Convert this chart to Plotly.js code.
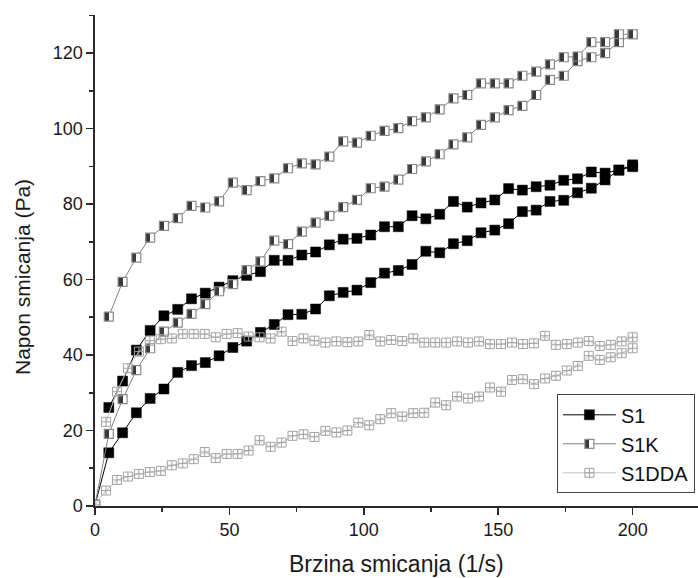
<!DOCTYPE html>
<html>
<head>
<meta charset="utf-8">
<script src="https://cdn.plot.ly/plotly-3.0.1.min.js"></script>
<style>
  html, body { margin: 0; padding: 0; background: #fff; }
  #chart { width: 698px; height: 578px; }
</style>
</head>
<body>
<div id="chart"></div>
<script>
// Shear rate grids (1/s)
const rate40 = [0, 5.13, 10.26, 15.38, 20.51, 25.64, 30.77, 35.90, 41.03, 46.15,
  51.28, 56.41, 61.54, 66.67, 71.79, 76.92, 82.05, 87.18, 92.31, 97.44,
  102.56, 107.69, 112.82, 117.95, 123.08, 128.21, 133.33, 138.46, 143.59, 148.72,
  153.85, 158.97, 164.10, 169.23, 174.36, 179.49, 184.62, 189.74, 194.87, 200];
const rate50 = [0, 4.08, 8.16, 12.24, 16.33, 20.41, 24.49, 28.57, 32.65, 36.73,
  40.82, 44.90, 48.98, 53.06, 57.14, 61.22, 65.31, 69.39, 73.47, 77.55,
  81.63, 85.71, 89.80, 93.88, 97.96, 102.04, 106.12, 110.20, 114.29, 118.37,
  122.45, 126.53, 130.61, 134.69, 138.78, 142.86, 146.94, 151.02, 155.10, 159.18,
  163.27, 167.35, 171.43, 175.51, 179.59, 183.67, 187.76, 191.84, 195.92, 200];

// S1 : branch starting at origin (rate40[0..39]) and return branch (rate40[1..39])
const s1Lower = [0.3, 14.1, 19.4, 24.7, 28.5, 31.0, 35.4, 37.2, 38.0, 39.8,
  42.0, 43.7, 46.0, 48.1, 50.7, 50.8, 52.2, 55.7, 56.6, 57.2,
  59.2, 61.7, 62.4, 64.0, 67.5, 67.1, 69.5, 70.3, 72.4, 73.1,
  74.8, 78.0, 78.4, 80.7, 81.0, 83.0, 84.2, 86.4, 89.0, 90.4];
const s1Upper = [26.1, 33.1, 41.3, 46.5, 50.4, 52.1, 54.9, 56.4, 58.0,
  59.7, 61.1, 62.1, 65.1, 65.1, 66.5, 67.3, 69.2, 70.7, 70.9,
  71.8, 74.0, 74.0, 76.9, 76.1, 77.3, 80.7, 79.2, 80.3, 81.1,
  84.1, 83.7, 84.6, 85.0, 86.3, 86.7, 88.5, 88.2, 89.0, 89.9];

// S1K
const s1kLower = [0.3, 19.1, 28.3, 36.0, 41.8, 46.2, 48.6, 50.9, 53.5, 56.9,
  58.8, 62.5, 64.8, 70.3, 69.4, 72.7, 75.1, 76.9, 79.2, 81.1,
  84.2, 84.6, 86.5, 89.3, 91.3, 93.2, 95.8, 97.7, 101.0, 103.0,
  104.9, 106.0, 108.9, 112.9, 114.0, 117.9, 118.9, 120.0, 122.9, 125.0];
const s1kUpper = [50.2, 59.4, 65.8, 71.1, 74.2, 76.3, 79.5, 79.1, 80.7,
  85.7, 83.7, 86.1, 86.8, 89.5, 90.8, 90.5, 92.6, 96.6, 96.3,
  98.1, 99.4, 100.1, 102.0, 103.0, 105.1, 108.0, 108.9, 112.0, 112.0,
  112.0, 114.0, 115.1, 117.0, 118.9, 119.1, 122.9, 122.9, 125.0, 125.0];

// S1DDA (rate50)
const s1ddaLower = [0.3, 4.1, 6.9, 7.8, 8.5, 9.0, 9.3, 10.8, 11.3, 12.4,
  14.3, 12.7, 13.8, 13.8, 14.7, 17.4, 15.7, 16.8, 18.6, 19.0,
  18.3, 19.9, 19.5, 20.0, 22.1, 21.4, 23.0, 24.6, 23.7, 24.6,
  24.7, 27.4, 26.7, 29.0, 28.5, 29.0, 31.4, 30.3, 33.4, 33.6,
  32.3, 33.8, 34.5, 35.9, 37.1, 39.8, 38.7, 39.4, 40.5, 41.8];
const s1ddaUpper = [22.3, 30.3, 36.5, 40.9, 43.8, 44.2, 44.4, 45.6, 45.6,
  45.6, 44.7, 45.6, 45.8, 44.9, 44.7, 44.4, 46.2, 43.7, 44.4,
  43.8, 43.3, 43.6, 43.4, 43.6, 45.3, 43.6, 44.0, 43.7, 44.4,
  43.3, 43.3, 43.3, 43.6, 43.3, 43.6, 42.9, 42.9, 43.3, 42.9,
  43.1, 45.1, 42.7, 42.9, 43.3, 43.7, 42.4, 42.7, 43.6, 44.7];

const seriesNames = ['S1', 'S1K', 'S1DDA'];
const xTitle = 'Brzina smicanja (1/s)';
const yTitle = 'Napon smicanja (Pa)';

function loop(rate, lower, upper) {
  return {
    x: rate.concat(rate.slice(1).reverse()),
    y: lower.concat(upper.slice().reverse())
  };
}

const FONT = '"Liberation Sans", Arial, sans-serif';

const l1 = loop(rate40, s1Lower, s1Upper);
const l2 = loop(rate40, s1kLower, s1kUpper);
const l3 = loop(rate50, s1ddaLower, s1ddaUpper);

const traces = [
  {
    name: seriesNames[0], x: l1.x, y: l1.y, type: 'scatter', mode: 'lines+markers',
    line: { color: '#000000', width: 1 },
    marker: { symbol: 'square', size: 10, color: '#000000', line: { color: '#000000', width: 0.5 } }
  },
  {
    name: seriesNames[1], x: l2.x, y: l2.y, type: 'scatter', mode: 'lines+markers',
    line: { color: '#808080', width: 1 },
    marker: { symbol: 'square', size: 9, color: '#ffffff',
      gradient: { type: 'horizontal', color: '#3a3a3a' },
      line: { color: '#8a8a8a', width: 1.2 } }
  },
  {
    name: seriesNames[2], x: l3.x, y: l3.y, type: 'scatter', mode: 'lines+markers',
    line: { color: '#c4c4c4', width: 1 },
    marker: { symbol: 'square-cross-open', size: 9, color: '#a2a2a2', line: { width: 1 } }
  }
];

const layout = {
  width: 698, height: 578,
  margin: { l: 95, r: 0, t: 15, b: 72, autoexpand: false },
  paper_bgcolor: '#ffffff', plot_bgcolor: '#ffffff',
  font: { family: FONT, size: 18, color: '#1a1a1a' },
  showlegend: true,
  xaxis: {
    range: [0, 224.3], showgrid: false, zeroline: false,
    showline: true, linecolor: '#2a2a2a', linewidth: 1.6,
    ticks: 'outside', ticklen: 7, tickwidth: 1.6, tickcolor: '#2a2a2a',
    tickvals: [0, 50, 100, 150, 200],
    minor: { tickvals: [25, 75, 125, 175, 225], ticks: 'outside', ticklen: 4, tickwidth: 1.6, tickcolor: '#2a2a2a' },
    tickfont: { family: FONT, size: 18, color: '#1a1a1a' }
  },
  yaxis: {
    range: [0, 130.1], showgrid: false, zeroline: false,
    showline: true, linecolor: '#2a2a2a', linewidth: 1.6,
    ticks: 'outside', ticklen: 7, tickwidth: 1.6, tickcolor: '#2a2a2a',
    tickvals: [0, 20, 40, 60, 80, 100, 120],
    minor: { tickvals: [10, 30, 50, 70, 90, 110, 130], ticks: 'outside', ticklen: 4, tickwidth: 1.6, tickcolor: '#2a2a2a' },
    tickfont: { family: FONT, size: 18, color: '#1a1a1a' }
  },
  annotations: [
    { text: xTitle, xref: 'paper', yref: 'paper', x: 0.5, y: -0.118,
      xanchor: 'center', yanchor: 'middle', showarrow: false,
      font: { family: FONT, size: 23, color: '#1a1a1a' } },
    { text: yTitle, xref: 'paper', yref: 'paper', x: -0.1194, y: 0.4664,
      xanchor: 'center', yanchor: 'middle', showarrow: false, textangle: -90,
      font: { family: FONT, size: 21, color: '#1a1a1a' } }
  ],
  legend: {
    x: 0.766, y: 0.2275, xanchor: 'left', yanchor: 'top',
    bgcolor: '#ffffff', bordercolor: '#444444', borderwidth: 1,
    font: { family: FONT, size: 20, color: '#111111' },
    itemwidth: 53, tracegroupgap: 0
  }
};

function sharpenGradients() {
  const NS = 'http://www.w3.org/2000/svg';
  document.querySelectorAll('#chart linearGradient').forEach(function (g) {
    const x1 = parseFloat(g.getAttribute('x1') || '0');
    const x2 = parseFloat(g.getAttribute('x2') || '1');
    const dark = '#3a3a3a', light = '#ffffff';
    const leftFirst = !(x1 > x2);
    while (g.firstChild) g.removeChild(g.firstChild);
    const spec = leftFirst
      ? [[0, dark], [0.5, dark], [0.5, light], [1, light]]
      : [[0, light], [0.5, light], [0.5, dark], [1, dark]];
    spec.forEach(function (s) {
      const st = document.createElementNS(NS, 'stop');
      st.setAttribute('offset', s[0]);
      st.setAttribute('stop-color', s[1]);
      st.setAttribute('stop-opacity', 1);
      g.appendChild(st);
    });
  });
}

Plotly.newPlot('chart', traces, layout, { displayModeBar: false, staticPlot: true })
  .then(sharpenGradients);
</script>
</body>
</html>
